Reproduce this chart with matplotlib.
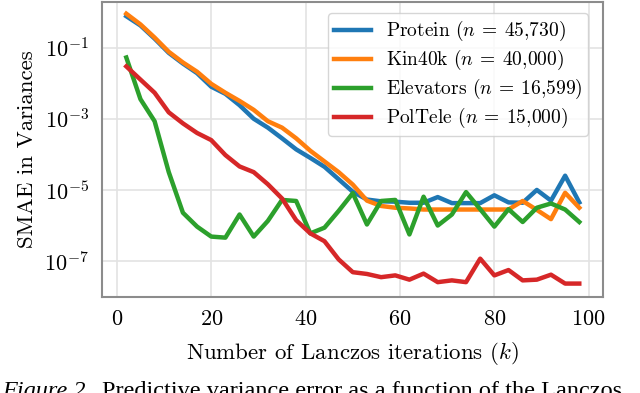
import numpy as np
import matplotlib
matplotlib.use("Agg")
import matplotlib.pyplot as plt

# iterations
k = list(range(2, 99, 3))

# log10 of SMAE
protein = [-0.12, -0.38, -0.75, -1.15, -1.45, -1.72, -2.1, -2.3, -2.62, -3.0, -3.25,
           -3.55, -3.86, -4.1, -4.35, -4.7, -5.05, -5.27, -5.32, -5.33, -5.36, -5.36,
           -5.2, -5.37, -5.37, -5.37, -5.15, -5.35, -5.36, -5.0, -5.3, -4.6, -5.35]
kin40k = [-0.05, -0.35, -0.72, -1.12, -1.42, -1.68, -2.02, -2.27, -2.5, -2.75, -3.07,
          -3.25, -3.55, -3.9, -4.2, -4.5, -4.85, -5.3, -5.45, -5.5, -5.52, -5.55,
          -5.55, -5.55, -5.55, -5.55, -5.55, -5.55, -5.31, -5.56, -5.82, -5.08, -5.5]
elevators = [-1.28, -2.45, -3.07, -4.5, -5.64, -6.03, -6.31, -6.34, -5.69, -6.31, -5.87,
             -5.28, -5.31, -6.22, -6.06, -5.59, -5.09, -5.97, -5.31, -5.28, -6.25, -5.19,
             -6.0, -5.69, -5.06, -5.54, -6.03, -5.54, -5.9, -5.5, -5.38, -5.55, -5.9]
poltele = [-1.53, -1.9, -2.27, -2.82, -3.13, -3.4, -3.6, -4.02, -4.34, -4.5, -4.84,
           -5.24, -5.85, -6.22, -6.44, -6.95, -7.31, -7.36, -7.45, -7.40, -7.52, -7.35,
           -7.59, -7.54, -7.59, -6.93, -7.40, -7.25, -7.54, -7.52, -7.38, -7.63, -7.63]

names = [r"Protein ($n\:=\:45{,}730$)", r"Kin40k ($n\:=\:40{,}000$)",
         r"Elevators ($n\:=\:16{,}599$)", r"PolTele ($n\:=\:15{,}000$)"]
colors = ["#1f77b4", "#ff7f0e", "#2ca02c", "#d62728"]

plt.rcParams['font.family'] = 'cmr10'
plt.rcParams['mathtext.fontset'] = 'cm'
plt.rcParams['axes.formatter.use_mathtext'] = True

fig = plt.figure(figsize=(6.4, 3.93), dpi=100)
ax = fig.add_axes([0.159, 0.244, 0.783, 0.751])

for ys, name, c in zip([protein, kin40k, elevators, poltele], names, colors):
    ax.plot(k, 10.0 ** np.array(ys), color=c, lw=3.2, label=name)

ax.set_yscale('log')
ax.set_xlim(-3.2, 103)
ax.set_ylim(10 ** -8.01, 10 ** 0.28)
ax.set_yticks([1e-1, 1e-3, 1e-5, 1e-7])
ax.yaxis.set_minor_locator(matplotlib.ticker.NullLocator())
ax.set_xticks([0, 20, 40, 60, 80, 100])
ax.tick_params(length=0, labelsize=16, pad=9)
ax.grid(True, color='#e3e3e3', lw=1.2)
for s in ax.spines.values():
    s.set_color('#8c8c8c')
    s.set_linewidth(1.5)

ax.set_xlabel("Number of Lanczos iterations ($k$)", fontsize=16.5, labelpad=8)
ax.set_ylabel("SMAE in Variances", fontsize=16.5, labelpad=5)

leg = ax.legend(loc='upper right', fontsize=14, handlelength=1.9,
                borderpad=0.3, labelspacing=0.25, handletextpad=0.75,
                framealpha=0.8, edgecolor='#cccccc', bbox_to_anchor=(0.99, 0.994))

# caption, cut off by the bottom edge as in the original
fig.text(0.003, 0.031, "Figure 2.", fontsize=17.5, family='Liberation Serif',
         style='italic', va='top')
fig.text(0.159, 0.031, "Predictive variance error as a function of the Lanczos",
         fontsize=17.5, family='Liberation Serif', va='top')

fig.savefig("out.png", dpi=100)
